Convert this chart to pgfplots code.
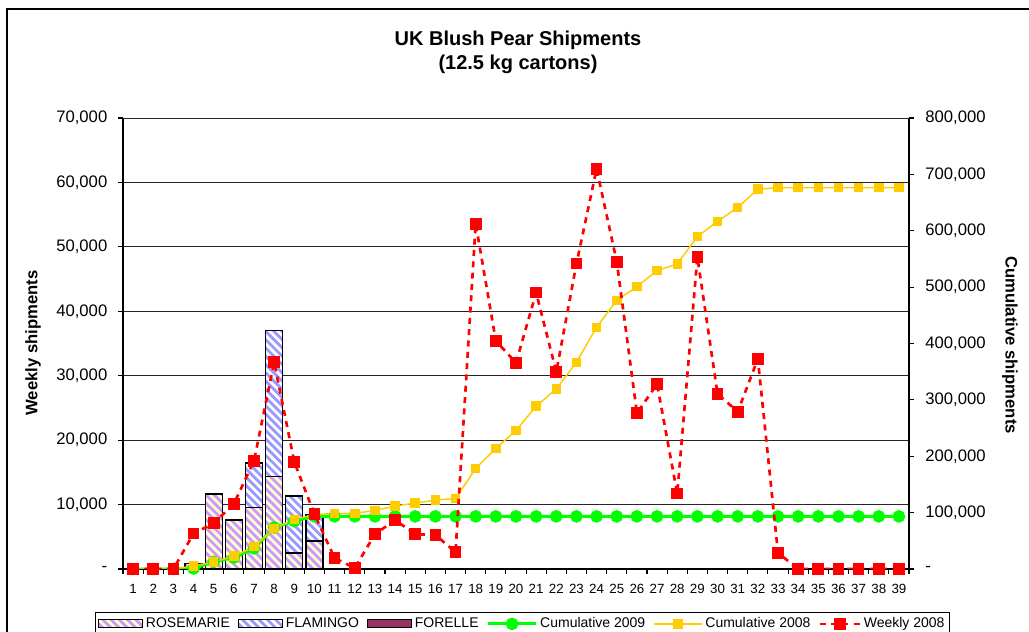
\documentclass[border=0pt]{standalone}
\usepackage{fontspec}
\setmainfont{Liberation Sans}
\usepackage{pgfplots}
\usepackage{pgfplotstable}
\pgfplotsset{compat=1.18}

\definecolor{rosebg}{HTML}{FFFFCC}
\definecolor{rosestripe}{HTML}{CC99FF}
\definecolor{flamstripe}{HTML}{9999FF}
\definecolor{forelle}{HTML}{993366}
\definecolor{cumnine}{HTML}{00FF00}
\definecolor{cumeight}{HTML}{FFCC00}
\definecolor{wkeight}{HTML}{FF0000}

\pgfplotstableread{
week wk08 cum08 cum09
1 0 0 0
2 0 0 0
3 0 0 0
4 5500 5500 900
5 7100 12600 12550
6 10100 22700 20150
7 16800 39500 36600
8 32100 71600 73600
9 16600 88200 84930
10 8500 96700 93330
11 1700 98400 93330
12 150 98550 93330
13 5400 103950 93330
14 7600 111550 93330
15 5400 116950 93330
16 5300 122250 93330
17 2600 124850 93330
18 53600 178450 93330
19 35400 213850 93330
20 32000 245850 93330
21 42900 288750 93330
22 30600 319350 93330
23 47400 366750 93330
24 62100 428850 93330
25 47700 476550 93330
26 24200 500750 93330
27 28700 529450 93330
28 11700 541150 93330
29 48400 589550 93330
30 27200 616750 93330
31 24400 641150 93330
32 32600 673750 93330
33 2500 676250 93330
34 0 676250 93330
35 0 676250 93330
36 0 676250 93330
37 0 676250 93330
38 0 676250 93330
39 0 676250 93330
}\shipdata

\pgfplotstableread{
week rose flam
4 900 0
5 11650 0
6 7600 0
7 9600 6850
8 14300 22700
9 2480 8850
10 4350 4050
}\bardata

\tikzset{
  stripes/.style={path picture={%
    \pgfsetlinewidth{2.1pt}%
    \pgfsetstrokecolor{#1}%
    \foreach \k in {0,...,62}{%
      \pgfpathmoveto{\pgfpointadd{\pgfplotspointrelaxisxy{0}{0}}{\pgfpoint{\k*6.2pt-250pt}{250pt}}}%
      \pgfpathlineto{\pgfpointadd{\pgfplotspointrelaxisxy{0}{0}}{\pgfpoint{\k*6.2pt+50pt}{-50pt}}}%
      \pgfusepath{stroke}%
    }}},
  rosefill/.style={fill=rosebg, draw=black, line width=0.9pt, stripes=rosestripe},
  flamfill/.style={fill=white, draw=black, line width=0.9pt, stripes=flamstripe},
}

\pgfplotsset{
  stripelegend/.style n args={2}{legend image code/.code={%
    \begin{scope}
      \clip (0pt,-3pt) rectangle (33pt,3pt);
      \fill[#1] (0pt,-3pt) rectangle (33pt,3pt);
      \foreach \k in {-1,...,7}{%
        \draw[#2, line width=2.1pt] (\k*6.2pt-6pt,6pt) -- (\k*6.2pt+6pt,-6pt);
      }
    \end{scope}
    \draw[black, line width=0.9pt] (0pt,-3pt) rectangle (33pt,3pt);
  }},
  barlegend/.style={legend image code/.code={\draw[##1] (0pt,-3pt) rectangle (33pt,3pt);}},
  linelegend/.style={legend image code/.code={\draw[mark repeat=2,mark phase=2,##1] plot coordinates {(0pt,0pt) (18pt,0pt) (36pt,0pt)};}},
  shortlegend/.style={legend image code/.code={\draw[mark repeat=2,mark phase=2,##1] plot coordinates {(0pt,0pt) (15pt,0pt) (30pt,0pt)};}},
  common/.style={
    at={(92.25pt,47.25pt)}, anchor=south west, scale only axis,
    width=589.5pt, height=338.25pt,
    xmin=0.5, xmax=39.5, scaled y ticks=false,
  },
}

\begin{document}
\begin{tikzpicture}
\useasboundingbox (0pt,0pt) rectangle (771.75pt,474pt);
\draw[line width=1pt] (5.25pt,-10pt) -- (5.25pt,467.25pt) -- (790pt,467.25pt);

\node[font=\fontsize{15}{18}\selectfont\bfseries, align=center] at (388.5pt,435pt) {UK Blush Pear Shipments\\(12.5 kg cartons)};
\node[rotate=90, font=\fontsize{12.5}{15}\selectfont\bfseries] at (24.75pt,216.75pt) {Weekly shipments};
\node[rotate=-90, font=\fontsize{12.5}{15}\selectfont\bfseries] at (757.5pt,215.25pt) {Cumulative shipments};

% left axis with bars
\begin{axis}[common,
  ymin=0, ymax=70000,
  ytick={0,10000,20000,30000,40000,50000,60000,70000},
  yticklabels={-,{10,000},{20,000},{30,000},{40,000},{50,000},{60,000},{70,000}},
  xtick={1,...,39},
  minor xtick={0.5,1.5,...,39.5},
  /pgf/number format/assume math mode=true,
  tick align=outside,
  major tick length=3.75pt, minor tick length=3.75pt,
  major x tick style={draw=none},
  axis x line*=bottom, axis y line*=left,
  axis line style={-, line width=1pt},
  tick style={black, line width=0.8pt},
  ymajorgrids, grid style={black!85, line width=0.75pt},
  xticklabel style={font=\fontsize{10}{12}\selectfont, yshift=-4pt},
  yticklabel style={font=\fontsize{12.5}{15}\selectfont, xshift=-4.5pt},
  ybar stacked, bar width=12.75pt,
]
\addplot[rosefill] table[x=week,y=rose]{\bardata};
\addplot[flamfill] table[x=week,y=flam]{\bardata};
\end{axis}

% right axis with cumulative lines
\begin{axis}[common,
  ymin=0, ymax=800000,
  axis y line*=right, axis x line=none,
  axis line style={-, line width=1pt},
  ytick={0,100000,200000,300000,400000,500000,600000,700000,800000},
  yticklabels={-,{100,000},{200,000},{300,000},{400,000},{500,000},{600,000},{700,000},{800,000}},
  tick align=outside, major tick length=3.75pt,
  tick style={black, line width=0.8pt},
  yticklabel style={font=\fontsize{12.5}{15}\selectfont, xshift=5pt},
]
\addplot[cumnine, line width=2.2pt, mark=*, mark size=3.6pt, mark options={fill=cumnine, draw=cumnine}] table[x=week,y=cum09]{\shipdata};
\addplot[cumeight, line width=1.1pt, mark=square*, mark size=3pt, mark options={fill=cumeight, draw=cumeight}] table[x=week,y=cum08]{\shipdata};
\end{axis}

% weekly 2008 on left scale, on top, with the legend
\begin{axis}[common,
  ymin=0, ymax=70000, hide axis,
  legend columns=6,
  legend style={at={(0.508,-0.0953)}, anchor=north, draw=black, line width=0.75pt,
    font=\fontsize{10.5}{12}\selectfont, inner sep=2pt,
    nodes={inner xsep=1.5pt},
    /tikz/every even column/.append style={column sep=4.5pt},
    /tikz/every odd column/.append style={column sep=0.5pt}},
]
\addlegendimage{stripelegend={rosebg}{rosestripe}}
\addlegendentry{ROSEMARIE}
\addlegendimage{stripelegend={white}{flamstripe}}
\addlegendentry{FLAMINGO}
\addlegendimage{barlegend, fill=forelle, draw=black, line width=0.9pt}
\addlegendentry{FORELLE}
\addlegendimage{linelegend, cumnine, line width=2.2pt, mark=*, mark size=3.6pt, mark options={fill=cumnine, draw=cumnine}}
\addlegendentry{Cumulative 2009}
\addlegendimage{linelegend, cumeight, line width=1.1pt, mark=square*, mark size=3pt, mark options={fill=cumeight, draw=cumeight}}
\addlegendentry{Cumulative 2008}
\addplot[wkeight, line width=2pt, dash pattern=on 4.5pt off 4pt, mark=square*, mark size=3.4pt, mark options={solid, fill=wkeight, draw=wkeight}, shortlegend] table[x=week,y=wk08]{\shipdata};
\addlegendentry{Weekly 2008}
\end{axis}
\end{tikzpicture}
\end{document}
